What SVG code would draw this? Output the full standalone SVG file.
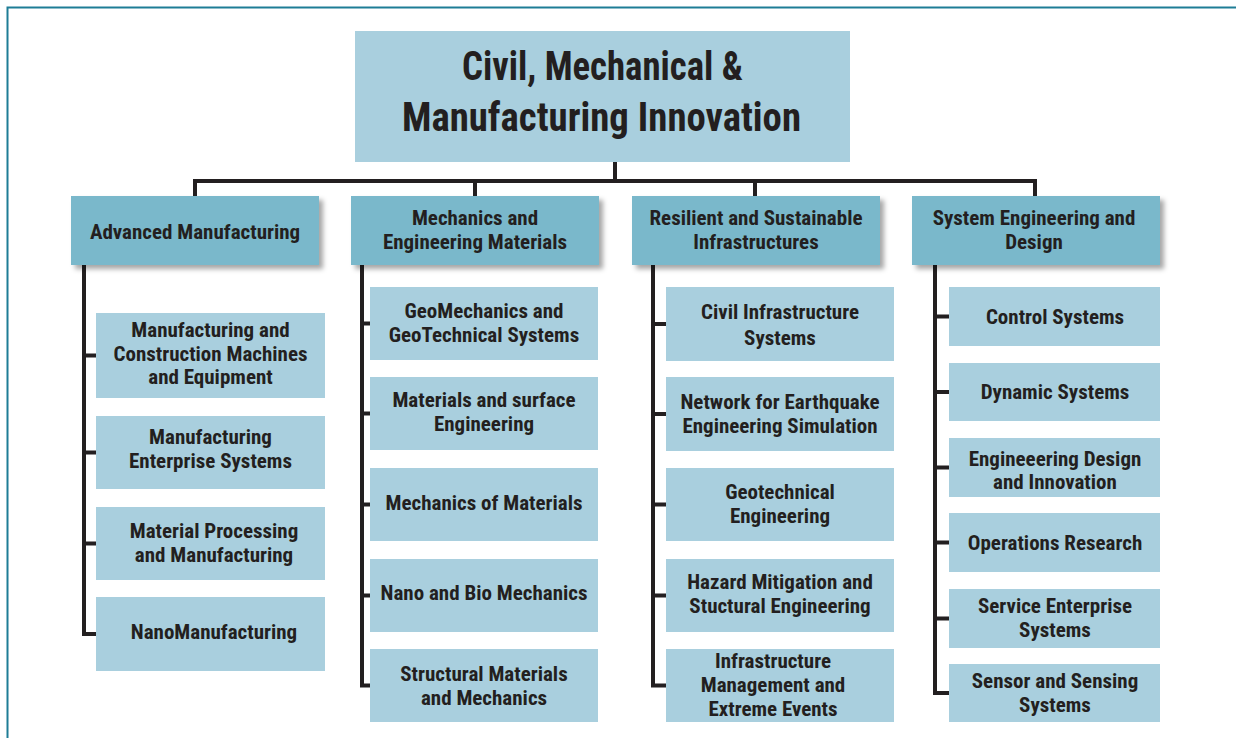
<svg xmlns="http://www.w3.org/2000/svg" width="1236" height="738" viewBox="0 0 1236 738">
<defs>
<filter id="sh" x="-10%" y="-10%" width="130%" height="140%">
<feDropShadow dx="4" dy="4" stdDeviation="2.5" flood-color="#000" flood-opacity="0.35"/>
</filter>
<style>
.t{font-family:"Liberation Sans Narrow","Roboto Condensed","DejaVu Sans Condensed","Liberation Sans",sans-serif;font-weight:bold;fill:#231f20;text-anchor:middle;font-size:21px}
.big{font-size:41px}
.top{fill:#a9cfde}
.hd{fill:#7ab8cb;filter:url(#sh)}
.ch{fill:#a9cfde}
.ln{fill:none;stroke:#231f20;stroke-width:4;stroke-linejoin:miter}
</style>
</defs>
<rect x="0" y="0" width="1236" height="738" fill="#fff"/>
<path d="M7.5,738 V7.5 H1236" fill="none" stroke="#1e7d96" stroke-width="2"/>

<g id="connectors">
<path class="ln" d="M615,162 V181"/>
<path class="ln" d="M195,196 V181 H1035 V196"/>
<path class="ln" d="M475,181 V196 M755,181 V196"/>
<path class="ln" d="M84,265 V634 H96 M84,355.5 H96 M84,452.5 H96 M84,543.5 H96"/>
<path class="ln" d="M362,265 V685.5 H370 M362,323.5 H370 M362,413.5 H370 M362,504.5 H370 M362,595.5 H370"/>
<path class="ln" d="M653,265 V685.5 H666 M653,324 H666 M653,414 H666 M653,504.5 H666 M653,595.5 H666"/>
<path class="ln" d="M935,265 V693 H949 M935,316.5 H949 M935,392 H949 M935,467.5 H949 M935,542.5 H949 M935,618.5 H949"/>
</g>

<g id="root">
<rect class="top" x="355" y="31" width="495" height="131"/>
<text class="t big" x="602.5" y="80" textLength="281" lengthAdjust="spacingAndGlyphs">Civil, Mechanical &amp;</text>
<text class="t big" x="601.5" y="131" textLength="399" lengthAdjust="spacingAndGlyphs">Manufacturing Innovation</text>
</g>

<g id="h1"><rect class="hd" x="71" y="196" width="248" height="69"/><text class="t" x="195" y="239">Advanced Manufacturing</text></g>
<g id="h2"><rect class="hd" x="351" y="196" width="248" height="69"/><text class="t" x="475" y="225">Mechanics and</text><text class="t" x="475" y="249">Engineering Materials</text></g>
<g id="h3"><rect class="hd" x="632" y="196" width="248" height="69"/><text class="t" x="756" y="225">Resilient and Sustainable</text><text class="t" x="756" y="249">Infrastructures</text></g>
<g id="h4"><rect class="hd" x="912" y="196" width="248" height="69"/><text class="t" x="1034" y="225">System Engineering and</text><text class="t" x="1034" y="249">Design</text></g>

<g id="c1a"><rect class="ch" x="96" y="313" width="229" height="85"/><text class="t" x="210.5" y="337">Manufacturing and</text><text class="t" x="210.5" y="360.5">Construction Machines</text><text class="t" x="210.5" y="384">and Equipment</text></g>
<g id="c1b"><rect class="ch" x="96" y="416" width="229" height="73"/><text class="t" x="210.5" y="444">Manufacturing</text><text class="t" x="210.5" y="468">Enterprise Systems</text></g>
<g id="c1c"><rect class="ch" x="96" y="507" width="229" height="73"/><text class="t" x="214" y="538">Material Processing</text><text class="t" x="214" y="562">and Manufacturing</text></g>
<g id="c1d"><rect class="ch" x="96" y="597" width="229" height="74"/><text class="t" x="214" y="639">NanoManufacturing</text></g>

<g id="c2a"><rect class="ch" x="370" y="287" width="228" height="73"/><text class="t" x="484" y="318">GeoMechanics and</text><text class="t" x="484" y="342">GeoTechnical Systems</text></g>
<g id="c2b"><rect class="ch" x="370" y="377" width="228" height="73"/><text class="t" x="484" y="407">Materials and surface</text><text class="t" x="484" y="431">Engineering</text></g>
<g id="c2c"><rect class="ch" x="370" y="468" width="228" height="73"/><text class="t" x="484" y="510">Mechanics of Materials</text></g>
<g id="c2d"><rect class="ch" x="370" y="559" width="228" height="73"/><text class="t" x="484" y="600">Nano and Bio Mechanics</text></g>
<g id="c2e"><rect class="ch" x="370" y="649" width="228" height="73"/><text class="t" x="484" y="681">Structural Materials</text><text class="t" x="484" y="705">and Mechanics</text></g>

<g id="c3a"><rect class="ch" x="666" y="287" width="228" height="74"/><text class="t" x="780" y="319">Civil Infrastructure</text><text class="t" x="780" y="345">Systems</text></g>
<g id="c3b"><rect class="ch" x="666" y="377" width="228" height="74"/><text class="t" x="780" y="409">Network for Earthquake</text><text class="t" x="780" y="433">Engineering Simulation</text></g>
<g id="c3c"><rect class="ch" x="666" y="468" width="228" height="73"/><text class="t" x="780" y="499">Geotechnical</text><text class="t" x="780" y="523">Engineering</text></g>
<g id="c3d"><rect class="ch" x="666" y="559" width="228" height="73"/><text class="t" x="780" y="589">Hazard Mitigation and</text><text class="t" x="780" y="613">Stuctural Engineering</text></g>
<g id="c3e"><rect class="ch" x="666" y="649" width="228" height="73"/><text class="t" x="773" y="668">Infrastructure</text><text class="t" x="773" y="692">Management and</text><text class="t" x="773" y="716">Extreme Events</text></g>

<g id="c4a"><rect class="ch" x="949" y="287" width="211" height="59"/><text class="t" x="1055" y="324">Control Systems</text></g>
<g id="c4b"><rect class="ch" x="949" y="363" width="211" height="58"/><text class="t" x="1055" y="399">Dynamic Systems</text></g>
<g id="c4c"><rect class="ch" x="949" y="438" width="211" height="59"/><text class="t" x="1055" y="466">Engineeering Design</text><text class="t" x="1055" y="489">and Innovation</text></g>
<g id="c4d"><rect class="ch" x="949" y="513" width="211" height="59"/><text class="t" x="1055" y="550">Operations Research</text></g>
<g id="c4e"><rect class="ch" x="949" y="589" width="211" height="59"/><text class="t" x="1055" y="613">Service Enterprise</text><text class="t" x="1055" y="637">Systems</text></g>
<g id="c4f"><rect class="ch" x="949" y="664" width="211" height="58"/><text class="t" x="1055" y="688">Sensor and Sensing</text><text class="t" x="1055" y="712">Systems</text></g>
</svg>
